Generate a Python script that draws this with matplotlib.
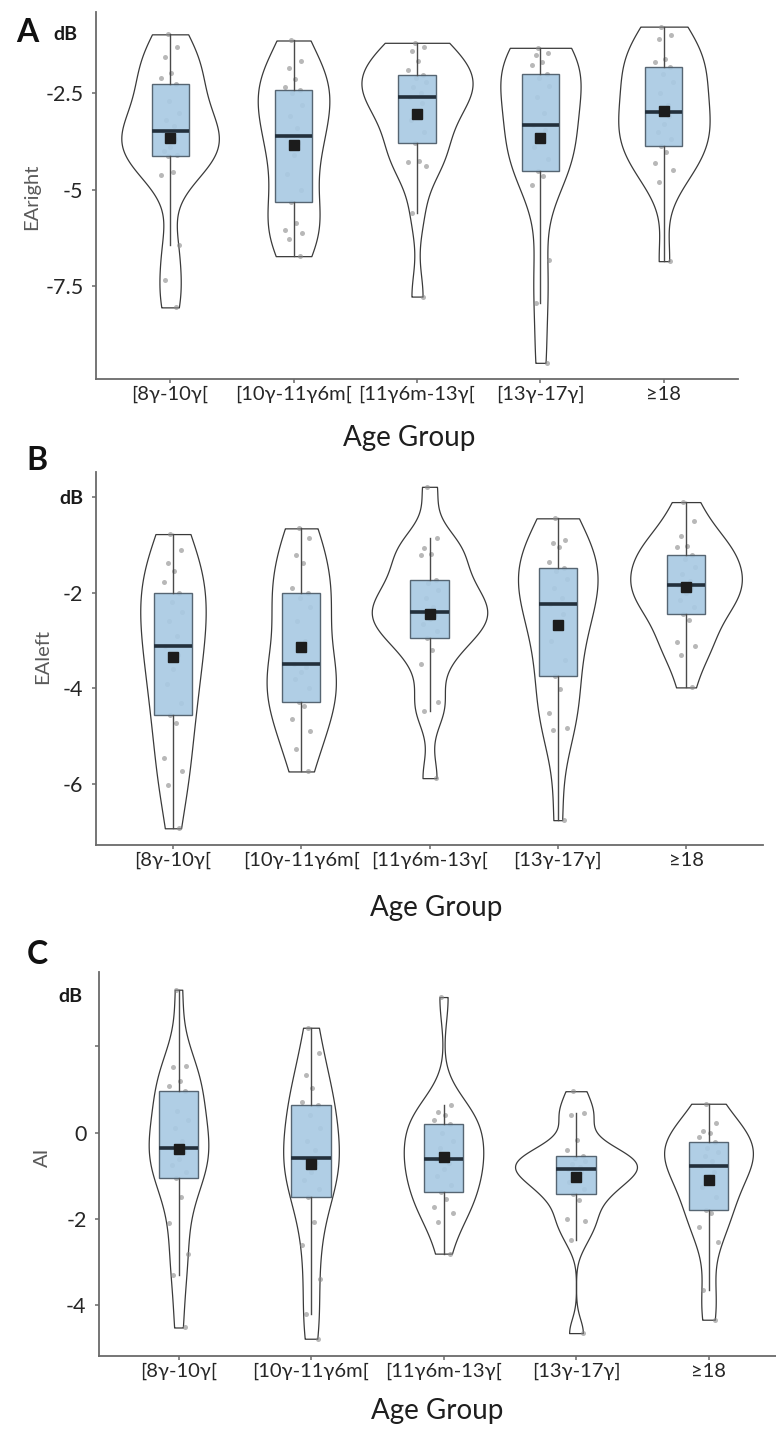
import numpy as np
import matplotlib
matplotlib.use("Agg")
import matplotlib.pyplot as plt

plt.rcParams['font.family'] = ['Lato', 'DejaVu Sans']

# ---------------- data ----------------
groups = ["[8γ-10γ[", "[10γ-11γ6m[", "[11γ6m-13γ[", "[13γ-17γ]", "≥18"]

EAright = [
    [-8.06, -7.35, -6.44, -4.62, -4.55, -4.13, -4.1, -4.0, -3.9, -3.7, -3.47, -3.35, -3.2, -3.0, -2.7, -2.26, -2.11, -1.97, -1.57, -1.29, -0.97],
    [-6.73, -6.28, -6.14, -6.05, -5.86, -5.32, -5.0, -4.6, -4.1, -3.8, -3.61, -3.4, -3.1, -2.8, -2.5, -2.41, -2.35, -2.13, -1.85, -1.66, -1.13],
    [-7.78, -5.62, -4.38, -4.28, -4.25, -3.78, -3.5, -3.2, -2.95, -2.75, -2.6, -2.5, -2.35, -2.2, -2.1, -2.02, -1.9, -1.65, -1.4, -1.3, -1.19],
    [-9.5, -7.95, -6.83, -4.88, -4.65, -4.51, -4.2, -3.9, -3.7, -3.45, -3.32, -3.0, -2.6, -2.3, -2.1, -2.01, -1.76, -1.7, -1.5, -1.46, -1.32],
    [-6.86, -4.8, -4.49, -4.3, -4.02, -3.86, -3.7, -3.5, -3.3, -3.1, -2.98, -2.8, -2.5, -2.2, -2.0, -1.82, -1.7, -1.62, -1.1, -0.99, -0.77],
]
EAleft = [
    [-6.93, -6.02, -5.74, -5.46, -4.72, -4.56, -4.3, -3.9, -3.6, -3.3, -3.11, -2.9, -2.6, -2.4, -2.2, -2.0, -1.77, -1.54, -1.37, -1.1, -0.77],
    [-5.74, -5.27, -4.9, -4.65, -4.38, -4.28, -4.0, -3.8, -3.65, -3.55, -3.48, -3.0, -2.6, -2.3, -2.1, -2.01, -1.9, -1.38, -1.21, -0.86, -0.65],
    [-5.88, -4.47, -4.28, -3.5, -3.2, -2.95, -2.8, -2.65, -2.55, -2.47, -2.41, -2.3, -2.1, -1.95, -1.8, -1.73, -1.21, -1.19, -1.07, -0.86, 0.22],
    [-6.76, -4.88, -4.82, -4.52, -4.02, -3.74, -3.4, -3.0, -2.7, -2.45, -2.24, -2.1, -1.9, -1.7, -1.55, -1.49, -1.35, -1.04, -0.95, -0.9, -0.44],
    [-3.98, -3.3, -3.12, -3.02, -2.57, -2.45, -2.3, -2.15, -2.0, -1.9, -1.84, -1.75, -1.6, -1.45, -1.3, -1.2, -1.05, -1.02, -0.81, -0.5, -0.1],
]
AI = [
    [-4.51, -3.3, -2.82, -2.1, -1.5, -1.05, -0.9, -0.75, -0.6, -0.45, -0.36, -0.2, 0.1, 0.3, 0.5, 0.96, 1.09, 1.2, 1.52, 1.55, 3.31],
    [-4.77, -4.2, -3.38, -2.61, -2.07, -1.49, -1.3, -1.1, -0.9, -0.7, -0.58, -0.4, -0.2, 0.1, 0.4, 0.63, 0.7, 1.04, 1.33, 1.84, 2.43],
    [-2.8, -2.07, -1.87, -1.72, -1.53, -1.37, -1.2, -1.0, -0.85, -0.7, -0.6, -0.5, -0.35, -0.2, 0.0, 0.21, 0.3, 0.4, 0.48, 0.63, 3.14],
    [-4.64, -2.49, -2.05, -1.99, -1.55, -1.43, -1.3, -1.15, -1.0, -0.92, -0.85, -0.8, -0.72, -0.65, -0.58, -0.53, -0.4, -0.16, 0.4, 0.45, 0.96],
    [-4.33, -3.65, -2.53, -2.19, -1.86, -1.8, -1.5, -1.25, -1.0, -0.9, -0.77, -0.65, -0.55, -0.45, -0.35, -0.22, -0.1, 0.0, 0.05, 0.22, 0.67],
]

# ---------------- style ----------------
W, H = 776, 1434
fig = plt.figure(figsize=(W / 100, H / 100), dpi=100)

BOX_FC = '#a9cae3'
BOX_EC = '#4b5a67'
MED_C = '#23303c'
AX_C = '#6a6a6a'
TXT_C = '#262626'
jit = [0.05, -0.04, 0.07, -0.07, 0.02, -0.02, 0.06, -0.05, 0.0, 0.04, -0.06,
       0.03, -0.03, 0.07, -0.01, 0.05, -0.07, 0.01, -0.04, 0.06, -0.02]


def nrd0(kde):
    d = np.asarray(kde.dataset).ravel()
    sd = d.std(ddof=1)
    q75, q25 = np.percentile(d, [75, 25])
    lo = min(sd, (q75 - q25) / 1.34)
    bw = 0.9 * lo * len(d) ** (-0.2)
    return bw / sd


def panel(rect_px, data, vwidths, ylim, yticks, yticklabels):
    l, t, r, b = rect_px
    ax = fig.add_axes([l / W, 1 - b / H, (r - l) / W, (b - t) / H])
    pos = np.arange(1, len(data) + 1)
    for i, d in enumerate(data):
        parts = ax.violinplot([d], positions=[pos[i]], widths=vwidths[i],
                              showextrema=False, bw_method=nrd0, points=400)
        for body in parts['bodies']:
            body.set_facecolor('white')
            body.set_edgecolor('#3a3a3a')
            body.set_linewidth(0.9)
            body.set_alpha(1)
            body.set_zorder(1)
    for i, d in enumerate(data):
        xs = pos[i] + np.array(jit[:len(d)])
        ax.plot(xs, d, 'o', color='#8a8a8a', alpha=0.6, ms=3.6, mec='none', zorder=2)
    bp = ax.boxplot(data, positions=pos, widths=0.3, showfliers=False,
                    patch_artist=True, whis=1.5, showcaps=False, manage_ticks=False,
                    medianprops=dict(color=MED_C, lw=2.6),
                    boxprops=dict(facecolor=BOX_FC, edgecolor=BOX_EC, lw=1.0),
                    whiskerprops=dict(color='#4a4a4a', lw=1.0), zorder=3)
    for p in bp['boxes']:
        p.set_alpha(0.92)
    for i, d in enumerate(data):
        ax.plot(pos[i], np.mean(d), 's', color='#1c1c1c', ms=7.5, zorder=5)
    ax.set_xlim(0.4, 5.6)
    ax.set_ylim(*ylim)
    ax.set_xticks(pos)
    ax.set_xticklabels(groups, fontsize=14.5, color=TXT_C)
    ax.set_yticks(yticks)
    ax.set_yticklabels(yticklabels, fontsize=15.5, color=TXT_C)
    for s in ['top', 'right']:
        ax.spines[s].set_visible(False)
    for s in ['left', 'bottom']:
        ax.spines[s].set_color(AX_C)
        ax.spines[s].set_linewidth(1.3)
    ax.tick_params(axis='both', colors=AX_C, length=3, width=1.1, labelcolor=TXT_C)
    ax.tick_params(axis='x', pad=2)
    ax.tick_params(axis='y', pad=6)
    ax.patch.set_alpha(0)
    return ax


def ftext(x, y, s, **kw):
    fig.text(x / W, 1 - y / H, s, **kw)


# Panel A
axA = panel((96, 12, 738, 379), EAright, [0.79, 0.58, 0.9, 0.65, 0.74],
            (-9.92, -0.39), [-7.5, -5, -2.5], ['-7.5', '-5', '-2.5'])
# Panel B
axB = panel((96, 472, 763, 845), EAleft, [0.51, 0.54, 0.9, 0.62, 0.87],
            (-7.28, 0.53), [-6, -4, -2, 0], ['-6', '-4', '-2', 'dB'])
lblB = axB.get_yticklabels()[-1]
lblB.set_fontweight('bold')
lblB.set_fontsize(14)
lblB.set_color('#1a1a1a')
# Panel C
axC = panel((99, 972, 788, 1356), AI, [0.45, 0.42, 0.6, 0.92, 0.67],
            (-5.17, 3.72), [-4, -2, 0, 2], ['-4', '-2', '0', ''])

# panel letters and units
ftext(16, 33, 'A', fontsize=23, fontweight='bold', va='center', ha='left', color='#111111')
ftext(53, 35, 'dB', fontsize=14, fontweight='bold', va='center', ha='left', color='#1a1a1a')
ftext(26, 460, 'B', fontsize=23, fontweight='bold', va='center', ha='left', color='#111111')
ftext(27, 954, 'C', fontsize=23, fontweight='bold', va='center', ha='left', color='#111111')
ftext(58, 996, 'dB', fontsize=14, fontweight='bold', va='center', ha='left', color='#1a1a1a')

# y labels
ftext(32, 197, 'EAright', fontsize=14.5, rotation=90, va='center', ha='center', color='#5a5a5a')
ftext(43, 657, 'EAleft', fontsize=14.5, rotation=90, va='center', ha='center', color='#5a5a5a')
ftext(42, 1157, 'AI', fontsize=14.5, rotation=90, va='center', ha='center', color='#5a5a5a')

# x labels
ftext(409, 438, 'Age Group', fontsize=20, va='center', ha='center', color='#1e1e1e')
ftext(436, 908, 'Age Group', fontsize=20, va='center', ha='center', color='#1e1e1e')
ftext(437, 1411, 'Age Group', fontsize=20, va='center', ha='center', color='#1e1e1e')

fig.savefig('out.png', dpi=100)
